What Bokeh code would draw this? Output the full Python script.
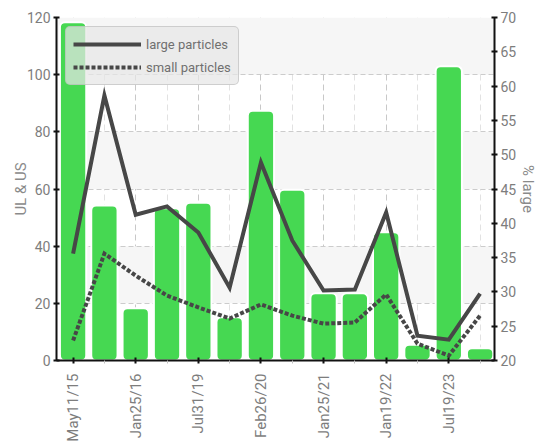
import math
from bokeh.plotting import figure
from bokeh.models import (Range1d, LinearAxis, FixedTicker, ColumnDataSource,
                          VBar, Legend)
from bokeh.embed import file_html
from bokeh.resources import INLINE

# ---- data ----
idx = list(range(14))
tick_labels = ["May11/15", "Jan25/16", "Jul31/19", "Feb26/20",
               "Jan25/21", "Jan19/22", "Jul19/23"]
pct_large = [69.3, 42.6, 27.6, 42.2, 43.0, 26.3, 56.4, 44.9, 29.8, 29.8,
             38.7, 22.3, 62.9, 21.8]
large_particles = [37.4, 92.7, 51.0, 53.9, 44.8, 25.5, 69.3, 42.0, 24.5,
                   24.8, 51.8, 8.7, 7.3, 23.4]
small_particles = [7.0, 37.4, 29.7, 22.7, 18.6, 14.7, 19.6, 15.7, 12.9,
                   13.3, 23.1, 5.9, 1.7, 15.7]
left_ticks = [0, 20, 40, 60, 80, 100, 120]
right_ticks = [20, 25, 30, 35, 40, 45, 50, 55, 60, 65, 70]

FONT = "Roboto"
GREY = "#7d7d7d"

src = ColumnDataSource(dict(x=idx, pct=pct_large, large=large_particles,
                            small=small_particles))

p = figure(width=543, height=446,
           x_range=Range1d(-0.53, 13.46), y_range=Range1d(0, 120),
           output_backend="svg", toolbar_location=None,
           min_border_top=17, min_border_left=56, min_border_right=49,
           min_border_bottom=86)
p.outline_line_color = None
p.background_fill_color = "white"

p.extra_y_ranges = {"pct": Range1d(20, 70)}

# bars
bar_kw = dict(x="x", top="pct", bottom=right_ticks[0], width=0.84,
              y_range_name="pct", fill_color="#46d852", line_color="white",
              line_width=2, source=src)
if "border_radius" in VBar.properties():
    bar_kw["border_radius"] = 5
p.vbar(**bar_kw)

r1 = p.line("x", "large", source=src, line_color="#474747", line_width=4,
            line_join="miter")
r2 = p.line("x", "small", source=src, line_color="#474747", line_width=4,
            line_dash="4 2", line_join="miter")

legend = Legend(items=[("large particles", [r1]), ("small particles", [r2])],
                location="top_left")
legend.margin = 9
legend.padding = 7
legend.spacing = 3
legend.glyph_width = 68
legend.glyph_height = 20
legend.label_height = 20
legend.label_standoff = 5
legend.label_text_font = FONT
legend.label_text_font_size = "13px"
legend.label_text_color = "#707070"
legend.background_fill_color = "#e6e6e6"
legend.background_fill_alpha = 0.72
legend.border_line_color = "#b0b0b0"
legend.border_line_width = 1
if "border_radius" in Legend.properties():
    legend.border_radius = 5
p.add_layout(legend)

# axes
right = LinearAxis(y_range_name="pct", ticker=FixedTicker(ticks=right_ticks),
                   axis_label="% large")
p.add_layout(right, "right")

p.yaxis[0].ticker = FixedTicker(ticks=left_ticks)
p.yaxis[0].axis_label = "UL & US"
p.yaxis[0].axis_label_standoff = -6
right.axis_label_standoff = 0

p.xaxis.ticker = FixedTicker(ticks=idx[0::2], minor_ticks=idx[1::2])
p.xaxis.major_label_overrides = {i: lab for i, lab in zip(idx[0::2], tick_labels)}
p.xaxis.major_label_orientation = math.pi / 2
p.xaxis.major_label_standoff = 10
p.xaxis.minor_tick_line_color = "#c0c0c0"
p.xaxis.minor_tick_in = 0
p.xaxis.minor_tick_out = 3

for ax in [p.xaxis[0], p.yaxis[0], right]:
    ax.axis_line_color = "#111111"
    ax.axis_line_width = 2
    ax.major_tick_line_color = "#111111"
    ax.major_tick_line_width = 2
    ax.major_tick_in = 3
    ax.major_tick_out = 3
    ax.major_label_text_font = FONT
    ax.major_label_text_font_size = "14px"
    ax.major_label_text_color = GREY
    ax.axis_label_text_font = FONT
    ax.axis_label_text_font_size = "15px"
    ax.axis_label_text_font_style = "normal"
    ax.axis_label_text_color = "#8a8a8a"
for ax in [p.yaxis[0], right]:
    ax.minor_tick_line_color = None
    ax.major_label_standoff = 3
p.xaxis.major_label_text_font_size = "15px"

# grids
p.ygrid.grid_line_color = "#cccccc"
p.ygrid.grid_line_dash = "5 3"
p.ygrid.band_fill_color = "#f6f6f6"
p.ygrid.band_fill_alpha = 1.0
p.xgrid.grid_line_color = "#c8c8c8"
p.xgrid.grid_line_dash = "6 4"
p.xgrid.minor_grid_line_color = "#e2e2e2"
p.xgrid.minor_grid_line_dash = "6 4"

open("out.html", "w").write(file_html(p, INLINE))
